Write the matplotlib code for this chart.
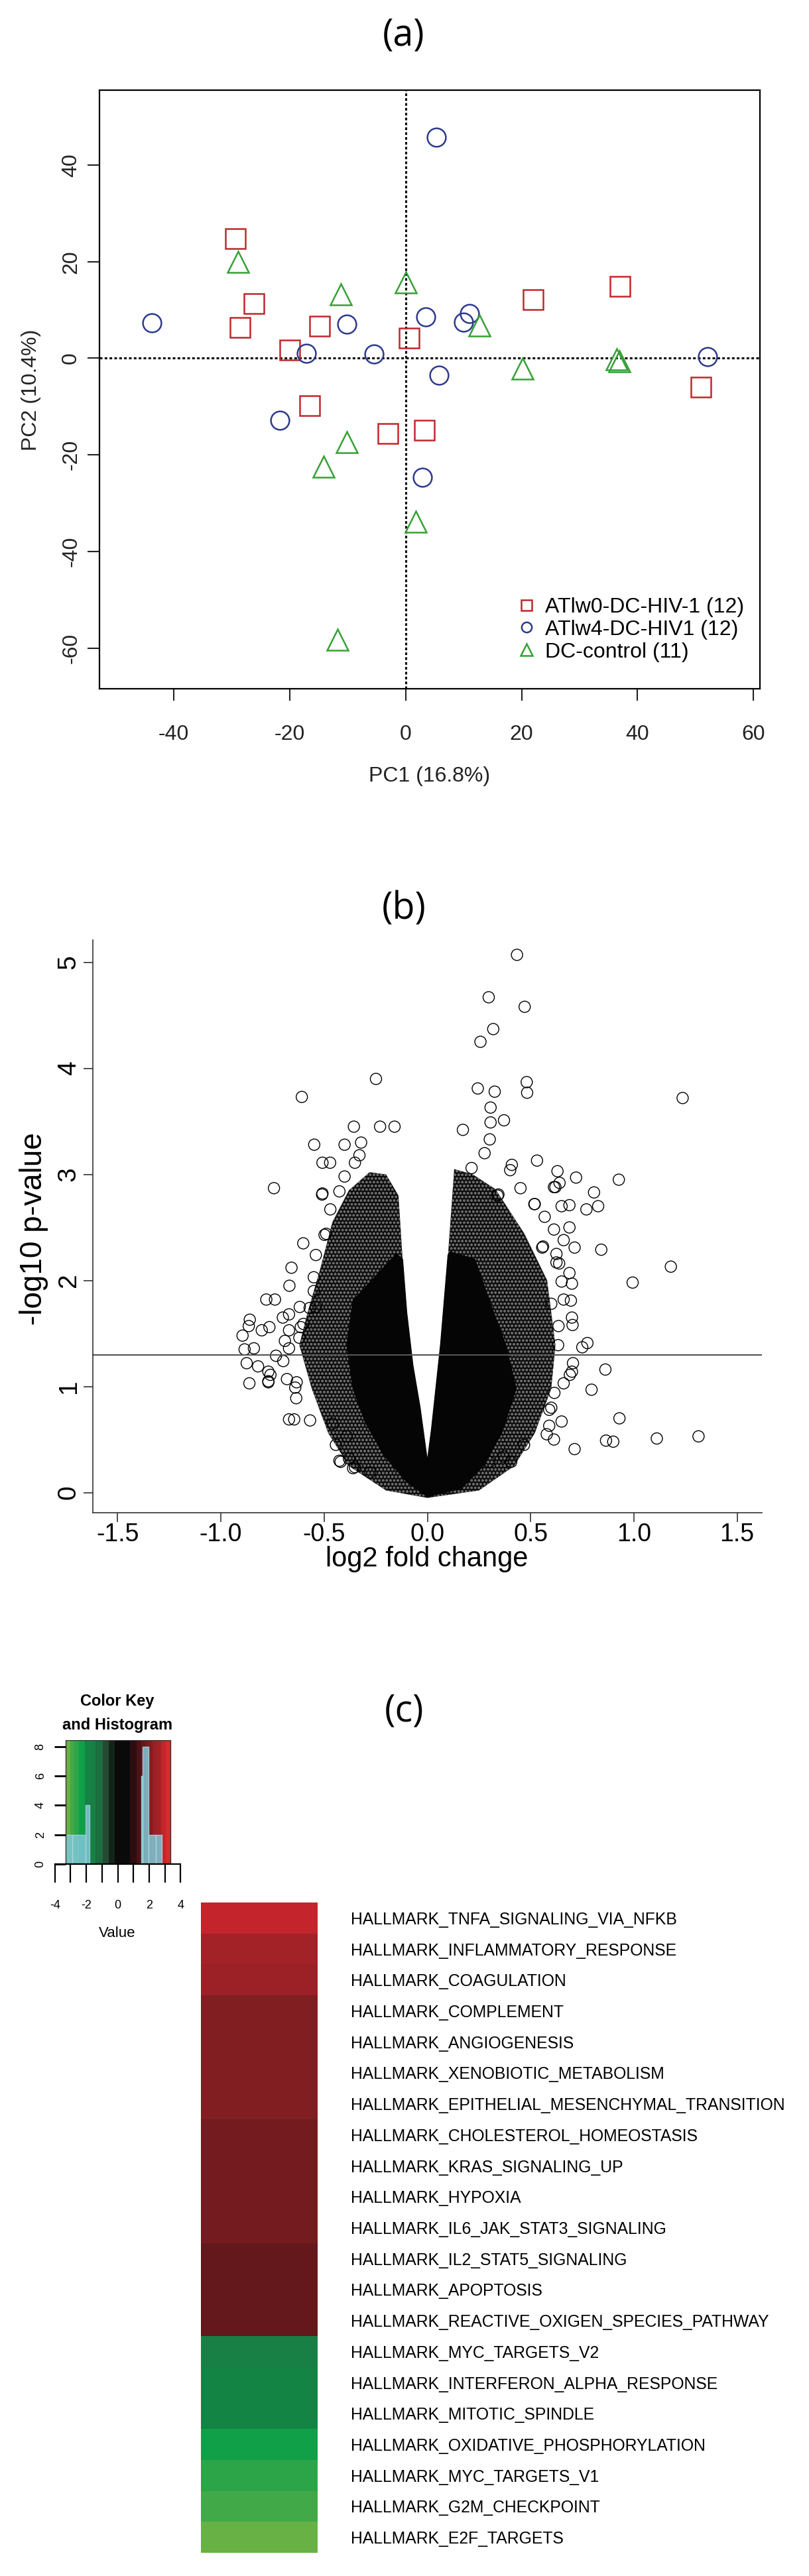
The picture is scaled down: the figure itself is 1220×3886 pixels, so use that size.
import numpy as np
import matplotlib
matplotlib.use('Agg')
import matplotlib.pyplot as plt
from matplotlib.colors import ListedColormap, BoundaryNorm
from matplotlib.patches import Polygon, Rectangle

W, H = 1220, 3886
DPI = 100

# ---------------- (a) PCA scores ----------------
w0_pc1 = [-29.3, -26.2, -28.5, -14.8, -20.0, 0.6, -16.6, -3.0, 3.2, 22.0, 37.0, 50.9]
w0_pc2 = [24.7, 11.3, 6.4, 6.6, 1.7, 4.2, -9.8, -15.6, -14.9, 12.2, 14.9, -6.0]
w4_pc1 = [-43.8, 5.3, -17.1, -10.2, -5.5, 3.5, 10.0, 11.0, 5.8, -21.7, 2.9, 52.1]
w4_pc2 = [7.4, 45.7, 1.0, 7.1, 0.9, 8.6, 7.5, 9.3, -3.5, -12.8, -24.6, 0.4]
dc_pc1 = [-28.9, -11.2, 0.0, 12.7, 20.2, 36.4, 36.9, -10.1, -14.2, 1.8, -11.8]
dc_pc2 = [20.0, 13.3, 15.7, 6.8, -2.1, -0.2, -0.6, -17.4, -22.4, -33.8, -58.2]
group_labels = ['ATlw0-DC-HIV-1 (12)', 'ATlw4-DC-HIV1 (12)', 'DC-control (11)']

# ---------------- (b) volcano ----------------
# sparse points
volcano_lfc = [0.434, 0.297, 0.471, 0.319, 0.257, -0.249, 0.481, 0.483, 0.244, 0.326,
               -0.608, 1.236, 0.306, 0.371, 0.306, -0.356, -0.229, -0.159, 0.172, 0.302,
               -0.548, -0.401, -0.321, 0.277, 0.531, -0.508, -0.471, -0.351, -0.329, 0.214,
               0.409, 0.401, -0.401, 0.630, 0.720, 0.927, -0.743, 0.451, 0.613, 0.807,
               -0.508, -0.426, 0.344, 0.827, 0.770, 0.650, 0.688, 0.518, 0.568, 0.613,
               0.688, -0.601, -0.498, 0.713, 0.842, 0.556, 0.638, 1.179, -0.658, 0.994,
               0.688, 0.700, -0.668, 0.695, -0.780, -0.738, -0.618, 0.700, 0.703, 0.775,
               0.750, 0.633, -0.860, -0.895, -0.802, -0.765, -0.885, -0.840, -0.875, -0.820,
               -0.770, -0.770, -0.862, -0.733, -0.698, 0.862, 0.795, 0.700, 0.705, -0.633,
               -0.670, -0.645, -0.568, 0.930, 0.650, 1.111, 1.313, 0.865, 0.900, 0.713,
               0.613, 0.406, -0.426, -0.351, -0.277, -0.443, 0.468, 0.578, -0.613, -0.540,
               -0.550, -0.670,
               -0.70, -0.67, -0.865, -0.67, -0.60, -0.69, -0.76, -0.77, -0.68, -0.635,
               -0.42, -0.38, -0.36, -0.49, -0.54, -0.55, -0.57, -0.62, -0.64, -0.46,
               -0.39, -0.47, -0.51, 0.62, 0.64, 0.66, 0.59, 0.37, 0.30, 0.56,
               0.625, 0.625, 0.65, 0.66, 0.635, 0.60, 0.69, 0.66, 0.615, 0.60,
               0.59, 0.34, 0.52]
volcano_logp = [5.07, 4.67, 4.58, 4.37, 4.25, 3.90, 3.87, 3.77, 3.81, 3.78,
                3.73, 3.72, 3.63, 3.51, 3.49, 3.45, 3.45, 3.45, 3.42, 3.33,
                3.28, 3.28, 3.30, 3.20, 3.13, 3.11, 3.11, 3.11, 3.18, 3.06,
                3.09, 3.04, 2.98, 3.03, 2.97, 2.95, 2.87, 2.87, 2.88, 2.83,
                2.82, 2.84, 2.81, 2.70, 2.67, 2.70, 2.71, 2.72, 2.60, 2.48,
                2.50, 2.35, 2.43, 2.31, 2.29, 2.31, 2.16, 2.13, 2.12, 1.98,
                2.07, 1.97, 1.95, 1.81, 1.82, 1.82, 1.75, 1.65, 1.58, 1.41,
                1.37, 1.39, 1.63, 1.48, 1.53, 1.56, 1.35, 1.36, 1.22, 1.19,
                1.14, 1.05, 1.03, 1.29, 1.24, 1.16, 0.97, 1.14, 1.22, 1.04,
                0.69, 0.69, 0.68, 0.70, 0.67, 0.51, 0.53, 0.49, 0.48, 0.41,
                0.50, 0.29, 0.30, 0.24, 0.19, 0.45, 0.45, 0.55, 1.56, 1.75,
                2.03, 1.36,
                1.65, 1.68, 1.57, 1.53, 1.59, 1.43, 1.11, 1.04, 1.07, 0.89,
                0.29, 0.32, 0.23, 2.44, 2.24, 1.90, 1.74, 1.46, 0.99, 0.65,
                0.53, 2.67, 2.81, 2.88, 2.92, 2.38, 0.63, 0.34, 0.29, 2.32,
                2.25, 2.17, 1.99, 1.82, 1.57, 1.78, 1.11, 1.03, 0.94, 0.80,
                0.78, 2.80, 2.72]
# outlines of the overplotted part of the cloud: mottled zone and solid black zone
mottled_lfc = [0.0, 0.25, 0.42, 0.52, 0.60, 0.62, 0.58, 0.47, 0.33, 0.22, 0.13,
               0.10, 0.064, 0.02, 0.0, -0.035, -0.07, -0.10, -0.12, -0.14, -0.20,
               -0.28, -0.38, -0.46, -0.52, -0.58, -0.62, -0.56, -0.48, -0.38, -0.20]
mottled_logp = [-0.05, 0.02, 0.25, 0.56, 0.98, 1.39, 2.0, 2.44, 2.86, 3.0, 3.05,
                2.24, 1.4, 0.6, 0.3, 0.8, 1.2, 1.7, 2.2, 2.8, 3.0,
                3.02, 2.85, 2.55, 2.1, 1.7, 1.39, 0.98, 0.56, 0.25, 0.02]
core_lfc = [0.0, 0.166, 0.27, 0.36, 0.43, 0.38, 0.30, 0.23, 0.11, 0.10, 0.064, 0.02, 0.0,
            -0.035, -0.07, -0.10, -0.12, -0.15, -0.18, -0.27, -0.36, -0.39, -0.36, -0.30,
            -0.21, -0.10]
core_logp = [-0.04, 0.04, 0.25, 0.56, 0.98, 1.39, 1.81, 2.2, 2.27, 2.24, 1.4, 0.6, 0.3,
             0.8, 1.2, 1.7, 2.2, 2.25, 2.19, 2.0, 1.81, 1.39, 0.98, 0.66,
             0.35, 0.10]
p_cutoff = 1.3

# ---------------- (c) hallmark heatmap ----------------
pathways = ['HALLMARK_TNFA_SIGNALING_VIA_NFKB', 'HALLMARK_INFLAMMATORY_RESPONSE',
            'HALLMARK_COAGULATION', 'HALLMARK_COMPLEMENT', 'HALLMARK_ANGIOGENESIS',
            'HALLMARK_XENOBIOTIC_METABOLISM', 'HALLMARK_EPITHELIAL_MESENCHYMAL_TRANSITION',
            'HALLMARK_CHOLESTEROL_HOMEOSTASIS', 'HALLMARK_KRAS_SIGNALING_UP',
            'HALLMARK_HYPOXIA', 'HALLMARK_IL6_JAK_STAT3_SIGNALING',
            'HALLMARK_IL2_STAT5_SIGNALING', 'HALLMARK_APOPTOSIS',
            'HALLMARK_REACTIVE_OXIGEN_SPECIES_PATHWAY', 'HALLMARK_MYC_TARGETS_V2',
            'HALLMARK_INTERFERON_ALPHA_RESPONSE', 'HALLMARK_MITOTIC_SPINDLE',
            'HALLMARK_OXIDATIVE_PHOSPHORYLATION', 'HALLMARK_MYC_TARGETS_V1',
            'HALLMARK_G2M_CHECKPOINT', 'HALLMARK_E2F_TARGETS']
nes = [2.9, 2.6, 2.3, 2.1, 2.05, 2.0, 1.98, 1.9, 1.88, 1.85, 1.8, 1.7, 1.65, 1.6,
       -1.6, -1.9, -1.95, -2.3, -2.6, -2.9, -3.2]
key_breaks = [-3.32, -3.0, -2.75, -2.45, -2.1, -1.75, -1.4, -0.96, -0.55, -0.19, 0.8,
              1.2, 1.5, 1.75, 1.95, 2.2, 2.45, 2.75, 3.05, 3.35]
key_colors = ['#68B145', '#42A948', '#2BA548', '#10A048', '#138443', '#188045', '#1B6E40',
              '#254A33', '#142419', '#0A0A0A', '#2E0D10', '#4A1317', '#64181B', '#731B1F',
              '#801E22', '#9B2126', '#A32228', '#C4242B', '#D62A2F']
hist_left = [-3.31, -2.88, -2.03, 1.48, 1.6, 1.97, 2.42]
hist_right = [-2.88, -2.03, -1.79, 1.6, 1.97, 2.42, 2.8]
hist_counts = [2, 2, 4, 6, 8, 2, 2]


def add_px_axes(fig, left, top, right, bottom):
    return fig.add_axes([left / W, 1 - bottom / H, (right - left) / W, (bottom - top) / H])


def px_text(fig, x, y, s, **kw):
    fig.text(x / W, 1 - y / H, s, ha='center', va='center', **kw)


if __name__ == "__main__":
    plt.rcParams['font.family'] = ['Liberation Sans', 'DejaVu Sans']
    plt.rcParams['axes.unicode_minus'] = False
    plt.rcParams['hatch.linewidth'] = 1.0

    fig = plt.figure(figsize=(W / DPI, H / DPI), dpi=DPI)
    title_font = dict(family=['Open Sans', 'DejaVu Sans'], fontsize=40)

    # ---- (a) ----
    px_text(fig, 609, 54, '(a)', **title_font)
    ax = add_px_axes(fig, 150, 136, 1146, 1039)
    ax.plot(w0_pc1, w0_pc2, ls='none', marker='s', ms=21, mfc='none', mec='#C0282D', mew=1.8,
            label=group_labels[0])
    ax.plot(w4_pc1, w4_pc2, ls='none', marker='o', ms=20, mfc='none', mec='#2E3A8C', mew=1.8,
            label=group_labels[1])
    ax.plot(dc_pc1, dc_pc2, ls='none', marker='^', ms=23, mfc='none', mec='#37A037', mew=1.8,
            label=group_labels[2])
    ax.axhline(0, color='black', lw=2.2, ls=(0, (1.3, 1.1)), zorder=0)
    ax.axvline(0, color='black', lw=2.2, ls=(0, (1.3, 1.1)), zorder=0)
    ax.set_xlim(-52.8, 61.1)
    ax.set_ylim(-68.4, 55.5)
    ax.set_xticks(np.arange(-40, 61, 20))
    ax.set_yticks(np.arange(-60, 41, 20))
    for s in ax.spines.values():
        s.set_linewidth(1.6)
    ax.tick_params(axis='both', direction='out', length=13, width=1.5, labelsize=23,
                   colors='#222222')
    ax.tick_params(axis='x', pad=26)
    ax.tick_params(axis='y', pad=7, labelrotation=90)
    for lab in ax.get_yticklabels():
        lab.set_va('center')
    px_text(fig, 648, 1171, 'PC1 (16.8%)', fontsize=23, color='#222222')
    px_text(fig, 47, 588, 'PC2 (10.4%)', fontsize=23, color='#222222', rotation=90)
    ax.legend(loc='upper left', bbox_to_anchor=(0.6335, 0.153), frameon=False, fontsize=23,
              markerscale=0.55, handlelength=0.8, handletextpad=0.5, labelspacing=0.12,
              borderpad=0, borderaxespad=0)

    # ---- (b) ----
    px_text(fig, 609, 1372, '(b)', **title_font)
    ax = add_px_axes(fig, 140, 1418, 1149, 2282)
    ax.add_patch(Polygon(np.column_stack([mottled_lfc, mottled_logp]), closed=True,
                         facecolor='#0c0c0c', edgecolor='#6a6a6a', hatch='ooo', lw=0))
    ax.add_patch(Polygon(np.column_stack([core_lfc, core_logp]), closed=True,
                         facecolor='#050505', edgecolor='#050505', lw=1))
    ax.scatter(volcano_lfc, volcano_logp, s=150, facecolors='none', edgecolors='black',
               linewidths=1.0)
    ax.axhline(p_cutoff, color='#555555', lw=1.5)
    ax.set_xlim(-1.62, 1.62)
    ax.set_ylim(-0.19, 5.21)
    ax.set_xticks(np.arange(-1.5, 1.51, 0.5))
    ax.set_xticklabels(['%.1f' % v for v in np.arange(-1.5, 1.51, 0.5)])
    ax.set_yticks(range(6))
    ax.spines['top'].set_visible(False)
    ax.spines['right'].set_visible(False)
    for s in ('left', 'bottom'):
        ax.spines[s].set_linewidth(1.2)
        ax.spines[s].set_color('#333333')
    ax.tick_params(axis='both', direction='out', length=10, width=1.2, color='#333333')
    ax.tick_params(axis='x', labelsize=27, pad=1)
    ax.tick_params(axis='y', labelsize=28, pad=3, labelrotation=90)
    for lab in ax.get_yticklabels():
        lab.set_va('center')
    px_text(fig, 644, 2352, 'log2 fold change', fontsize=30)
    px_text(fig, 51, 1854, '-log10 p-value', fontsize=33, rotation=90)

    # ---- (c) ----
    px_text(fig, 609, 2582, '(c)', **title_font)
    cmap = ListedColormap(key_colors)
    norm = BoundaryNorm(key_breaks, cmap.N)

    ax = add_px_axes(fig, 303, 2870, 479, 3851)
    ax.pcolormesh([0, 1], np.arange(len(nes) + 1), np.array(nes).reshape(-1, 1),
                  cmap=cmap, norm=norm)
    ax.set_xlim(0, 1)
    ax.set_ylim(len(nes), 0)
    ax.set_xticks([])
    ax.yaxis.tick_right()
    ax.set_yticks(np.arange(len(nes)) + 0.5)
    ax.set_yticklabels(pathways, fontsize=17.8)
    ax.tick_params(axis='y', length=0, pad=36)
    for s in ax.spines.values():
        s.set_visible(False)

    # colour key with histogram
    key = add_px_axes(fig, 82.7, 2625, 272.3, 2812)
    key_lo, key_hi = key_breaks[0], key_breaks[-1]
    key.pcolormesh(key_breaks, [0, 8.45], np.array([
        [(a + b) / 2 for a, b in zip(key_breaks[:-1], key_breaks[1:])]]),
        cmap=cmap, norm=norm)
    key.bar(hist_left, hist_counts, width=np.array(hist_right) - np.array(hist_left),
            align='edge', color='#7EC8D6', alpha=0.85, edgecolor='#A9D6DE', lw=1)
    key.add_patch(Rectangle((key_lo, 0), key_hi - key_lo, 8.45, fill=False,
                            edgecolor='#333333', lw=1))
    key.set_xlim(-4, 4)
    key.set_ylim(0, 8.45)
    key.spines['top'].set_visible(False)
    key.spines['right'].set_visible(False)
    key.spines['left'].set_position(('data', key_lo))
    key.spines['left'].set_visible(False)
    key.spines['bottom'].set_linewidth(1.6)
    key.set_xticks([-4, -2, 0, 2, 4])
    key.set_xticks([-3, -1, 1, 3], minor=True)
    key.set_yticks([0, 2, 4, 6, 8])
    key.tick_params(axis='x', which='both', direction='out', length=20, width=1.6,
                    labelsize=13, pad=19)
    key.tick_params(axis='y', direction='out', length=12, width=2, labelsize=13, pad=9,
                    labelrotation=90)
    for lab in key.get_yticklabels():
        lab.set_va('center')
    px_text(fig, 177, 2566, 'Color Key', fontsize=17, fontweight='bold')
    px_text(fig, 177, 2602, 'and Histogram', fontsize=17, fontweight='bold')
    px_text(fig, 177, 2916, 'Value', fontsize=16)

    fig.savefig('out.png', dpi=DPI)
